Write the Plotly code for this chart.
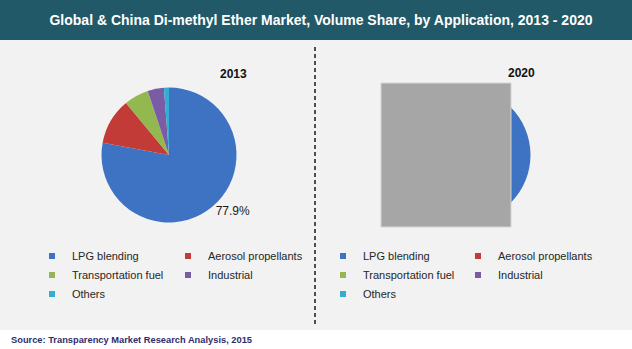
import plotly.graph_objects as go

# ---------------- data ----------------
categories = ["LPG blending", "Aerosol propellants", "Transportation fuel", "Industrial", "Others"]
share_2013 = [77.9, 11.1, 5.9, 3.9, 1.2]
share_2020 = [74.5, 13.0, 6.8, 4.3, 1.4]   # hidden behind the grey box in the source image
years = ["2013", "2020"]
colors = ["#3D73C2", "#C23B36", "#93B84F", "#7A5CA6", "#34ADD3"]
title_text = "Global & China Di-methyl Ether Market, Volume Share, by Application, 2013 - 2020"
source_text = "Source: Transparency Market Research Analysis, 2015"

W, H = 632, 349
FONT = "Liberation Sans, Arial, sans-serif"


def px(x):
    return x / W


def py(y):
    return 1 - y / H


fig = go.Figure()

# ---------------- pies ----------------
pie_domains = [
    dict(x=[px(101.5), px(236.5)], y=[py(222.5), py(87.5)]),
    dict(x=[px(395.5), px(530.5)], y=[py(222.5), py(87.5)]),
]
for k, (yr, vals) in enumerate(zip(years, [share_2013, share_2020])):
    if k == 0:
        tpos = ["outside"] + ["none"] * (len(categories) - 1)
    else:
        tpos = ["none"] * len(categories)
    fig.add_trace(go.Pie(
        labels=categories, values=vals, name=yr,
        sort=False, direction="clockwise", rotation=0,
        marker=dict(colors=colors, line=dict(width=0)),
        domain=pie_domains[k],
        texttemplate="%{percent:.1%}", textposition=tpos,
        outsidetextfont=dict(family=FONT, size=12, color="#1a1a1a"),
        showlegend=False, hoverinfo="label+percent",
    ))

# ---------------- legend entries (two columns per pie) ----------------
legend_ids = [["legend", "legend2"], ["legend3", "legend4"]]
for k in range(len(years)):
    for i, (cat, col) in enumerate(zip(categories, colors)):
        fig.add_trace(go.Scatter(
            x=[None], y=[None], mode="markers", name=cat,
            marker=dict(symbol="square", size=6, color=col),
            legend=legend_ids[k][i % 2], hoverinfo="skip",
        ))

leg_common = dict(
    orientation="v", bgcolor="rgba(0,0,0,0)", borderwidth=0,
    font=dict(family=FONT, size=11, color="#262626"),
    xanchor="left", yanchor="top", y=py(241.5), tracegroupgap=0,
)
leg_x = {"legend": 32, "legend2": 168, "legend3": 323, "legend4": 458}

# ---------------- layout ----------------
shapes = [
    dict(type="rect", xref="paper", yref="paper", x0=0, x1=1, y0=py(40), y1=1,
         fillcolor="#215968", line=dict(width=0), layer="below"),
    dict(type="rect", xref="paper", yref="paper", x0=0, x1=1, y0=py(330), y1=py(40),
         fillcolor="#F2F2F2", line=dict(width=0), layer="below"),
    dict(type="line", xref="paper", yref="paper", x0=px(315), x1=px(315), y0=py(324), y1=py(47),
         line=dict(color="#1a1a1a", width=1.5, dash="4px,3px")),
    dict(type="rect", xref="paper", yref="paper", x0=px(381), x1=px(511), y0=py(227), y1=py(83),
         fillcolor="#A6A6A6", line=dict(color="#D4D4D4", width=1), layer="above"),
]

annotations = [
    dict(text="<b>%s</b>" % years[0], x=px(234), y=py(65), xref="paper", yref="paper",
         showarrow=False, font=dict(family=FONT, size=12, color="#111111")),
    dict(text="<b>%s</b>" % years[1], x=px(537), y=py(64), xref="paper", yref="paper",
         showarrow=False, font=dict(family=FONT, size=12, color="#111111")),
    dict(text="<b>%s</b>" % source_text, x=px(9), y=py(340), xref="paper", yref="paper",
         xanchor="left", yanchor="middle", showarrow=False,
         font=dict(family=FONT, size=9.3, color="#302D6E")),
]

layout = dict(
    width=W, height=H,
    margin=dict(l=0, r=0, t=0, b=0, pad=0, autoexpand=False),
    paper_bgcolor="white", plot_bgcolor="rgba(0,0,0,0)",
    title=dict(text="<b>%s</b>" % title_text, x=px(321), xanchor="center",
               y=py(20), yanchor="middle", xref="container", yref="container",
               font=dict(family=FONT, size=14, color="white")),
    xaxis=dict(visible=False), yaxis=dict(visible=False),
    shapes=shapes, annotations=annotations,
)
for lid, lx in leg_x.items():
    layout[lid] = dict(leg_common, x=px(lx))

fig.update_layout(**layout)
fig.write_html("out.html", config={"displayModeBar": False})
